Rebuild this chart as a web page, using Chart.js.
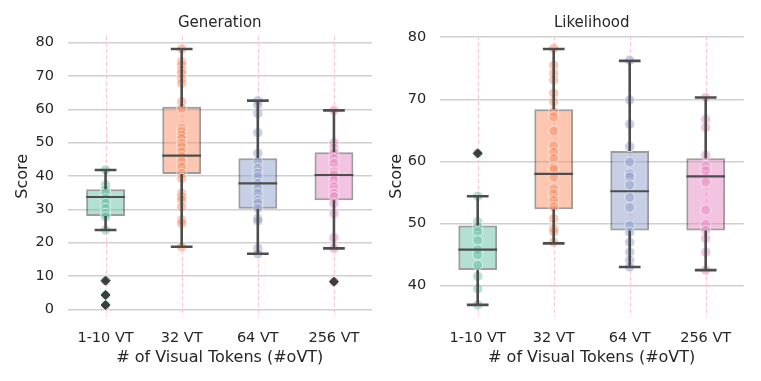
<!DOCTYPE html>
<html>
<head>
<meta charset="utf-8">
<script src="https://cdn.jsdelivr.net/npm/chart.js@4.4.1/dist/chart.umd.min.js"></script>
<style>
  html, body { margin: 0; padding: 0; background: #fff; }
  #wrap { position: relative; width: 761px; height: 381px; }
  .panel { position: absolute; top: 0; height: 381px; }
</style>
</head>
<body>
<div id="wrap">
  <div class="panel" style="left:0;width:380px"><canvas id="gen" width="380" height="381"></canvas></div>
  <div class="panel" style="left:380px;width:381px"><canvas id="lik" width="381" height="381"></canvas></div>
</div>
<script>
const categories = ["1-10 VT", "32 VT", "64 VT", "256 VT"];
const palette = ["102,194,165", "252,141,98", "141,160,203", "231,138,195"];

// Generation box stats
const genLow = [23.8, 18.8, 16.7, 18.3];
const genQ1 = [28.0, 40.6, 30.2, 32.7];
const genMed = [33.7, 46.1, 37.8, 40.3];
const genQ3 = [36.0, 60.8, 45.3, 47.1];
const genHigh = [41.8, 78.1, 62.6, 59.7];
const genOutliers = [[8.6, 4.3, 1.3], [], [], [8.3]];
const genPoints = [
  [41.8, 37.3, 35.8, 34.8, 33.3, 31.8, 30.3, 28.8, 27.8, 23.8, 8.6, 4.3, 1.3],
  [78.1, 74.3, 73.3, 71.8, 70.8, 69.3, 67.8, 62.3, 60.3, 54.3, 53.3, 52.3, 51.3, 49.8, 48.8, 47.3,
   45.8, 44.3, 42.8, 40.8, 39.3, 34.8, 33.8, 32.8, 30.8, 26.8, 25.8, 18.8],
  [62.6, 61.3, 58.8, 53.0, 46.8, 44.3, 42.3, 40.8, 39.8, 37.8, 36.3, 34.8, 32.8, 31.8, 30.3, 27.3,
   26.6, 18.3, 16.7],
  [59.7, 50.0, 48.3, 47.0, 45.3, 43.8, 41.3, 40.3, 38.8, 36.8, 34.8, 33.8, 31.8, 28.8, 21.5, 18.3, 8.3]
];
const genTicks = [0, 10, 20, 30, 40, 50, 60, 70, 80];

// Likelihood box stats
const likLow = [36.9, 46.8, 43.0, 42.5];
const likQ1 = [42.5, 52.3, 48.9, 48.9];
const likMed = [45.8, 58.0, 55.2, 57.6];
const likQ3 = [49.7, 68.4, 61.7, 60.5];
const likHigh = [54.4, 78.1, 76.2, 70.3];
const likOutliers = [[61.3], [], [], []];
const likPoints = [
  [61.3, 54.4, 50.3, 49.5, 48.7, 47.3, 45.8, 45.0, 43.3, 41.5, 39.5, 36.9],
  [78.2, 75.5, 74.2, 73.1, 71.0, 69.6, 68.0, 67.2, 64.9, 62.5, 61.5, 60.5, 59.1, 58.7, 57.5, 55.6,
   54.8, 53.8, 52.7, 50.8, 49.2, 48.7, 47.0],
  [76.3, 69.9, 66.0, 62.4, 59.9, 58.0, 57.5, 56.2, 54.2, 52.6, 49.7, 48.6, 47.0, 45.4, 44.1, 43.0],
  [70.3, 66.8, 65.5, 61.0, 59.3, 58.5, 56.7, 52.2, 49.9, 48.9, 47.6, 45.4, 42.5]
];
const likTicks = [40, 50, 60, 70, 80];

const textColor = "#262626";
const lineDark = "#4d4d4d";

// pink dashed guide at each category, under everything
const guidePlugin = {
  id: "guides",
  beforeDatasetsDraw(chart) {
    const x = chart.scales.x, area = chart.chartArea, ctx = chart.ctx;
    ctx.save();
    ctx.strokeStyle = "#ffc2cf";
    ctx.lineWidth = 1;
    ctx.setLineDash([4, 2.5]);
    categories.forEach((c, i) => {
      const px = Math.round(x.getPixelForValue(i)) + 0.5;
      ctx.beginPath();
      ctx.moveTo(px, area.top);
      ctx.lineTo(px, area.bottom);
      ctx.stroke();
    });
    ctx.restore();
  }
};

// whiskers, caps and medians, drawn on top of the boxes and points
const whiskerPlugin = {
  id: "whiskers",
  afterDatasetsDraw(chart) {
    const st = chart.options.plugins.whiskers;
    const meta = chart.getDatasetMeta(2);
    const y = chart.scales.y;
    const ctx = chart.ctx;
    ctx.save();
    ctx.strokeStyle = lineDark;
    meta.data.forEach((bar, i) => {
      const cx = bar.x;
      const hw = bar.width / 2;
      const cw = bar.width * 0.28;
      const yLo = y.getPixelForValue(st.low[i]);
      const yQ1 = y.getPixelForValue(st.q1[i]);
      const yQ3 = y.getPixelForValue(st.q3[i]);
      const yHi = y.getPixelForValue(st.high[i]);
      const yMed = y.getPixelForValue(st.med[i]);
      ctx.lineWidth = 2.6;
      ctx.beginPath();
      ctx.moveTo(cx, yQ1); ctx.lineTo(cx, yLo);
      ctx.moveTo(cx, yQ3); ctx.lineTo(cx, yHi);
      ctx.moveTo(cx - cw, yLo); ctx.lineTo(cx + cw, yLo);
      ctx.moveTo(cx - cw, yHi); ctx.lineTo(cx + cw, yHi);
      ctx.stroke();
      ctx.lineWidth = 2.2;
      ctx.beginPath();
      ctx.moveTo(cx - hw, yMed); ctx.lineTo(cx + hw, yMed);
      ctx.stroke();
    });
    ctx.restore();
  }
};

function makeChart(id, title, s, points, outliers, ticks, yMin, yMax, yWidth, padRight, yTitlePad) {
  const ptData = [], ptColors = [];
  points.forEach((arr, i) => arr.forEach(v => {
    ptData.push({ x: categories[i], y: v });
    ptColors.push(`rgba(${palette[i]},0.5)`);
  }));
  const outData = [];
  outliers.forEach((arr, i) => arr.forEach(v => outData.push({ x: categories[i], y: v })));

  return new Chart(document.getElementById(id).getContext("2d"), {
    type: "bar",
    data: {
      labels: categories,
      datasets: [
        {
          type: "line", data: outData, showLine: false, order: 1,
          pointStyle: "rectRot", pointRadius: 4.5,
          pointBackgroundColor: "#3d3d3d", pointBorderColor: "#3d3d3d", pointBorderWidth: 1
        },
        {
          type: "line", data: ptData, showLine: false, order: 2,
          pointRadius: 5, pointBackgroundColor: ptColors,
          pointBorderColor: "rgba(255,255,255,0.6)", pointBorderWidth: 1
        },
        {
          type: "bar", order: 3,
          data: s.q1.map((q, i) => [q, s.q3[i]]),
          backgroundColor: palette.map(c => `rgba(${c},0.5)`),
          borderColor: "rgba(60,60,60,0.5)", borderWidth: 2, borderSkipped: false,
          barPercentage: 0.51, categoryPercentage: 1
        }
      ]
    },
    options: {
      responsive: false,
      animation: false,
      layout: { padding: { left: 0, right: padRight, top: 0, bottom: 0 } },
      plugins: {
        legend: { display: false },
        tooltip: { enabled: false },
        title: {
          display: true, text: title, color: textColor, fullSize: false,
          font: { family: "DejaVu Sans", size: 15, weight: "normal" },
          padding: { top: 14.5, bottom: 3.5 }
        },
        whiskers: s
      },
      scales: {
        x: {
          grid: { display: false, drawTicks: false },
          border: { display: false },
          ticks: { color: textColor, padding: 13, font: { family: "DejaVu Sans", size: 14.5 } },
          title: {
            display: true, text: "# of Visual Tokens (#oVT)", color: textColor,
            font: { family: "DejaVu Sans", size: 16 }, padding: { top: 0, bottom: 14 }
          },
          afterFit: sc => { sc.height = 64.3; }
        },
        y: {
          min: yMin, max: yMax,
          afterBuildTicks: sc => { sc.ticks = ticks.map(v => ({ value: v })); },
          afterFit: sc => { sc.width = yWidth; },
          grid: { color: "#cfcfcf", lineWidth: 1.6, drawTicks: false },
          border: { display: false },
          ticks: { color: textColor, padding: 13.5, font: { family: "DejaVu Sans", size: 14.5 } },
          title: {
            display: true, text: "Score", color: textColor,
            font: { family: "DejaVu Sans", size: 16 }, padding: { top: yTitlePad, bottom: 0 }
          }
        }
      }
    },
    plugins: [guidePlugin, whiskerPlugin]
  });
}

makeChart("gen", "Generation",
  { low: genLow, q1: genQ1, med: genMed, q3: genQ3, high: genHigh },
  genPoints, genOutliers, genTicks, -2.2, 82.0, 67.5, 8, 13.5);
makeChart("lik", "Likelihood",
  { low: likLow, q1: likQ1, med: likMed, q3: likQ3, high: likHigh },
  likPoints, likOutliers, likTicks, 35.0, 80.2, 59.7, 17.3, 7.5);
</script>
</body>
</html>
